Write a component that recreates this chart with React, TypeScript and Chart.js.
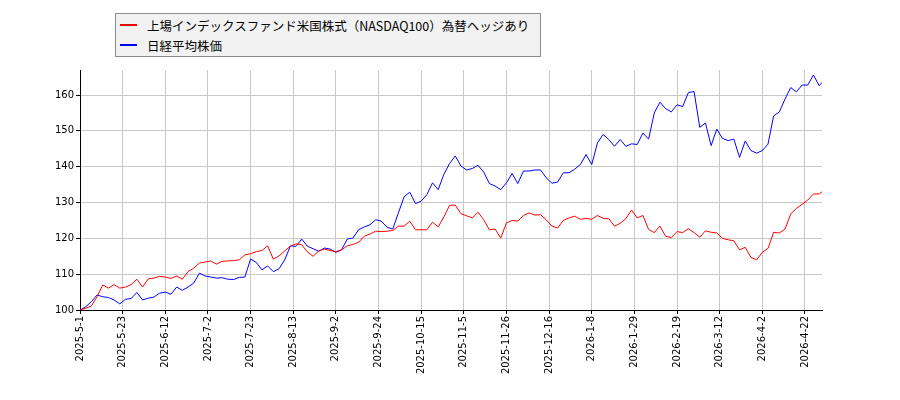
import { useEffect, useRef } from "react"
import { Chart, registerables } from "chart.js"

Chart.register(...registerables)

// 営業日インデックス（0 = 2025-5-1）
const tickPositions = [0, 15, 30, 45, 60, 75, 90, 105, 120, 135, 150, 165, 180, 195, 210, 225, 240, 255]
const tickLabels = [
  "2025-5-1", "2025-5-23", "2025-6-12", "2025-7-2", "2025-7-23", "2025-8-13",
  "2025-9-2", "2025-9-24", "2025-10-15", "2025-11-5", "2025-11-26", "2025-12-16",
  "2026-1-8", "2026-1-29", "2026-2-19", "2026-3-12", "2026-4-2", "2026-4-22",
]
const yTicks = [100, 110, 120, 130, 140, 150, 160]

const seriesNames = ["上場インデックスファンド米国株式（NASDAQ100）為替ヘッジあり", "日経平均株価"]
const seriesColors = ["#ff0000", "#0000ff"]

const dayIndex = [
  0, 2, 4, 6, 8, 10, 12, 14, 16, 18, 20, 22, 24, 26, 28, 30, 32, 34, 36, 38, 40, 42,
  44, 46, 48, 50, 52, 54, 56, 58, 60, 62, 64, 66, 68, 70, 72, 74, 76, 78, 80, 82, 84, 86,
  88, 90, 92, 94, 96, 98, 100, 102, 104, 106, 108, 110, 112, 114, 116, 118, 120, 122, 124, 126, 128, 130,
  132, 134, 136, 138, 140, 142, 144, 146, 148, 150, 152, 154, 156, 158, 160, 162, 164, 166, 168, 170, 172, 174,
  176, 178, 180, 182, 184, 186, 188, 190, 192, 194, 196, 198, 200, 202, 204, 206, 208, 210, 212, 214, 216,
  218, 220, 222, 224, 226, 228, 230, 232, 234, 236, 238, 240, 242, 244, 246, 248, 250, 252, 254, 256, 258, 260, 261,
]

const fundValues = [
  100.0, 100.5, 101.1, 103.7, 107.0, 106.1, 107.1, 106.1, 106.4, 107.1, 108.6, 106.4, 108.7, 108.9, 109.4, 109.2, 108.8, 109.5, 108.6, 110.7, 111.7, 113.1,
  113.4, 113.7, 112.8, 113.6, 113.7, 113.8, 114.0, 115.4, 115.7, 116.3, 116.6, 117.9, 114.2, 115.1, 116.5, 117.8, 118.5, 118.2, 116.2, 115.0, 116.5, 117.0,
  116.6, 116.3, 116.8, 117.9, 118.3, 118.9, 120.6, 121.2, 122.0, 121.9, 122.0, 122.2, 123.4, 123.4, 124.8, 122.4, 122.4, 122.4, 124.5, 123.2, 126.0, 129.2,
  129.3, 126.9, 126.3, 125.7, 127.3, 125.2, 122.4, 122.6, 120.1, 124.3, 125.0, 124.8, 126.4, 127.1, 126.5, 126.6, 125.2, 123.4, 122.9, 125.0, 125.7, 126.2,
  125.3, 125.6, 125.3, 126.4, 125.6, 125.5, 123.4, 124.2, 125.5, 127.9, 125.7, 126.4, 122.5, 121.6, 123.4, 120.6, 120.2, 121.9, 121.6, 122.7, 121.6,
  120.3, 122.1, 121.7, 121.5, 120.0, 119.6, 119.3, 116.8, 117.5, 114.7, 114.0, 116.1, 117.2, 121.7, 121.5, 122.6, 126.8, 128.4, 129.5, 130.7, 132.4, 132.4, 133.0,
]

const nikkeiValues = [
  100.0, 100.9, 102.3, 104.2, 103.7, 103.5, 102.8, 101.7, 103.0, 103.2, 104.9, 102.8, 103.3, 103.6, 104.7, 105.0, 104.4, 106.4, 105.5, 106.4, 107.5, 110.3,
  109.5, 109.2, 108.9, 109.0, 108.6, 108.5, 109.1, 109.2, 114.2, 113.3, 111.2, 112.3, 110.7, 111.5, 114.0, 117.9, 117.8, 119.8, 117.8, 117.1, 116.4, 117.3,
  117.0, 116.1, 116.8, 119.8, 120.1, 122.4, 123.2, 123.8, 125.2, 124.8, 123.1, 122.6, 127.1, 131.6, 132.9, 129.7, 130.4, 132.2, 135.5, 133.6, 137.9, 140.9,
  143.0, 140.2, 139.1, 139.5, 140.4, 138.5, 135.3, 134.6, 133.6, 135.5, 138.1, 135.3, 138.8, 138.8, 139.1, 139.1, 136.9, 135.4, 135.7, 138.3, 138.3, 139.3,
  140.6, 143.4, 140.6, 146.6, 149.0, 147.6, 145.7, 147.6, 145.7, 146.4, 146.2, 149.4, 147.7, 155.0, 158.0, 156.2, 155.3, 157.3, 156.8, 160.7, 161.0,
  151.0, 152.2, 145.9, 150.5, 147.9, 147.3, 147.7, 142.6, 147.2, 144.5, 143.8, 144.5, 146.3, 154.2, 155.3, 158.9, 162.1, 160.9, 162.8, 162.8, 165.6, 162.6, 163.5,
]

const tickFont = { family: "'DejaVu Sans'", size: 10 }

export default function App() {
  const canvasRef = useRef<HTMLCanvasElement>(null)

  useEffect(() => {
    document.body.style.margin = "0"
    if (!canvasRef.current) return
    const ctx = canvasRef.current.getContext("2d")
    if (!ctx) return

    const chart = new Chart(ctx, {
      type: "line",
      data: {
        datasets: [fundValues, nikkeiValues].map((vals, i) => ({
          label: seriesNames[i],
          data: dayIndex.map((x, j) => ({ x, y: vals[j] })),
          borderColor: seriesColors[i],
          backgroundColor: seriesColors[i],
          borderWidth: 1,
          pointRadius: 0,
          tension: 0,
        })),
      },
      options: {
        responsive: false,
        animation: false,
        layout: { padding: { top: 70, right: 78, bottom: 0, left: 0 } },
        plugins: { legend: { display: false }, tooltip: { enabled: false } },
        scales: {
          x: {
            type: "linear",
            min: 0,
            max: 261,
            afterFit: (s: any) => { s.height = 90 },
            afterBuildTicks: (s: any) => { s.ticks = tickPositions.map((v) => ({ value: v })) },
            ticks: {
              autoSkip: false,
              maxRotation: 90,
              minRotation: 90,
              padding: 2,
              color: "#000",
              font: tickFont,
              callback: (v: any) => tickLabels[tickPositions.indexOf(Number(v))] ?? "",
            },
            grid: { color: "#c8c8c8", tickColor: "#000", tickLength: 4 },
            border: { color: "#000", width: 1 },
          },
          y: {
            min: 100,
            max: 167,
            afterFit: (s: any) => { s.width = 80 },
            afterBuildTicks: (s: any) => { s.ticks = yTicks.map((v) => ({ value: v })) },
            ticks: { padding: 2, color: "#000", font: tickFont },
            grid: { color: "#c8c8c8", tickColor: "#000", tickLength: 4 },
            border: { color: "#000", width: 1 },
          },
        },
      },
    })

    return () => chart.destroy()
  }, [])

  return (
    <div style={{ position: "relative", width: 900, height: 400 }}>
      <canvas ref={canvasRef} width={900} height={400} style={{ width: 900, height: 400 }} />
      <div
        style={{
          position: "absolute",
          left: 115,
          top: 13,
          width: 426,
          height: 44,
          boxSizing: "border-box",
          border: "1px solid #8c8c8c",
          background: "#f2f2f2",
          padding: "1px 0 0 4px",
          fontFamily: "'Noto Sans CJK JP', sans-serif",
          fontSize: 12.5,
          color: "#000",
        }}
      >
        {seriesNames.map((name, i) => (
          <div key={name} style={{ display: "flex", alignItems: "center", height: 20 }}>
            <span style={{ display: "inline-block", width: 17, height: 2, background: seriesColors[i], marginRight: 10 }} />
            <span style={{ whiteSpace: "nowrap" }}>{name}</span>
          </div>
        ))}
      </div>
    </div>
  )
}
